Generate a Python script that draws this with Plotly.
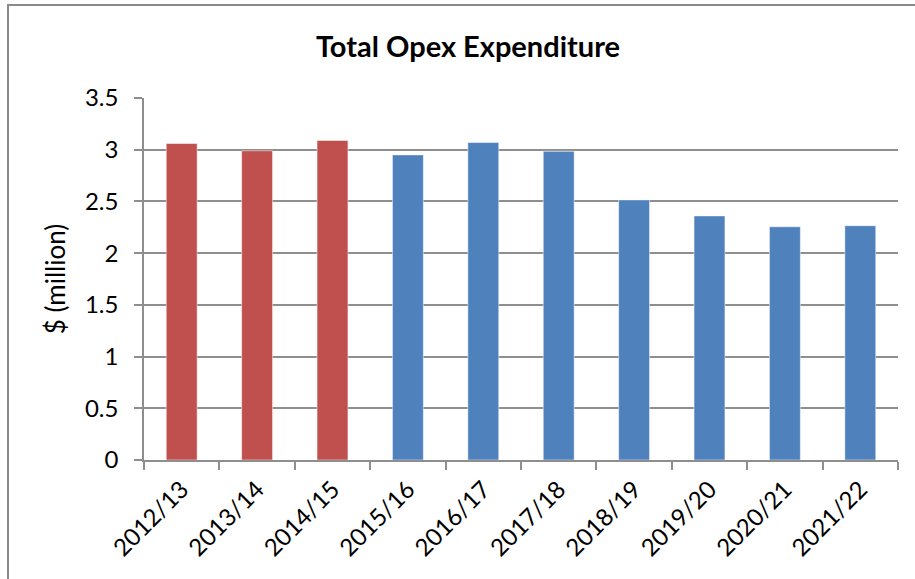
"""Total Opex Expenditure bar chart rebuilt with Plotly"""

import plotly.graph_objects as go

# Values ($ million)
years = ['2012/13', '2013/14', '2014/15', '2015/16', '2016/17',
         '2017/18', '2018/19', '2019/20', '2020/21', '2021/22']
opex = [3.06, 2.99, 3.09, 2.95, 3.07, 2.985, 2.515, 2.36, 2.255, 2.265]
# first three years are actuals (red), the rest forecast (blue)
is_actual = [True, True, True, False, False, False, False, False, False, False]

RED = '#C0504D'
BLUE = '#4F81BD'
GRID = '#8E8E8E'
FONT = 'Lato, Open Sans, sans-serif'

bar_colors = [RED if a else BLUE for a in is_actual]

fig = go.Figure(go.Bar(x=years, y=opex, marker_color=bar_colors,
                       marker_line=dict(color='rgba(255,255,255,0.5)', width=1)))

W, H = 915, 579
ml, mr, mt, mb = 144, 17, 98, 119

fig.update_layout(
    width=W, height=H,
    margin=dict(l=ml, r=mr, t=mt, b=mb, autoexpand=False),
    paper_bgcolor='white', plot_bgcolor='white',
    font=dict(family=FONT, color='black'),
    bargap=0.59,
    showlegend=False,
    title=dict(text='<b>Total Opex Expenditure</b>', x=468 / W, xanchor='center',
               y=1 - 47 / H, yanchor='middle', font=dict(size=29)),
)

fig.update_yaxes(range=[0, 3.5], dtick=0.5, showgrid=True,
                 gridcolor=GRID, gridwidth=1.5,
                 showline=True, linecolor=GRID, linewidth=1.5,
                 ticks='outside', ticklen=8, tickcolor=GRID, tickwidth=1.5,
                 tickfont=dict(size=24), ticklabelstandoff=11,
                 zeroline=False, automargin=False,
                 title=dict(text='$ (million)', font=dict(size=26), standoff=12))

fig.update_xaxes(type='category', tickangle=-45, tickson='boundaries',
                 showline=True, linecolor=GRID, linewidth=1.5,
                 ticks='outside', ticklen=8, tickcolor=GRID, tickwidth=1.5,
                 tickfont=dict(size=24), ticklabelstandoff=4,
                 showgrid=False, automargin=False)

# chart frame (only top and left edges are visible in the crop)
pw = W - ml - mr
ph = H - mt - mb
fig.add_shape(type='rect', xref='paper', yref='paper',
              x0=(8 - ml) / pw, x1=(W + 20 - ml) / pw,
              y0=-(H + 20 - mt - ph) / ph, y1=1 + (mt - 5) / ph,
              line=dict(color='#8A8A8A', width=2), layer='below')

# drop the browser's default body margin so the figure sits at the page corner
fig.write_html("out.html", config={'displayModeBar': False},
               post_script="document.body.style.margin='0';document.body.style.overflow='hidden';")
